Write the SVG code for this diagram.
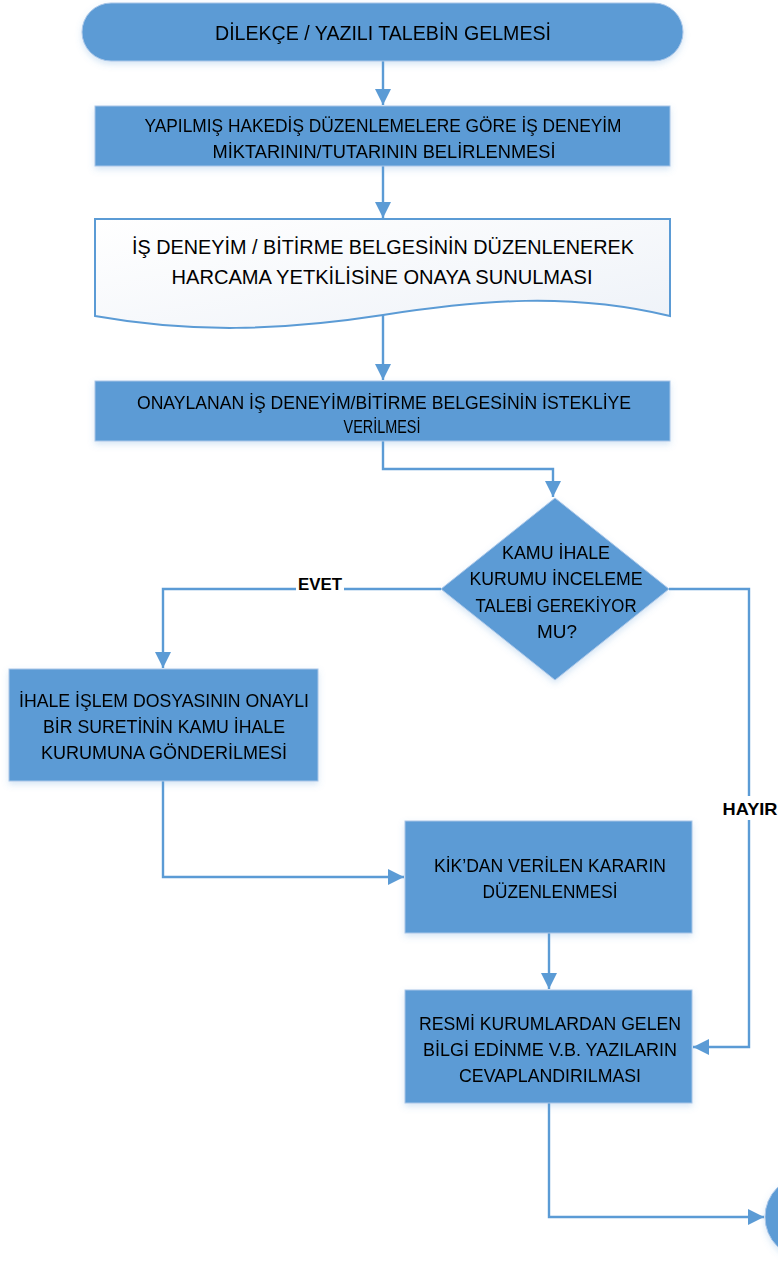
<svg xmlns="http://www.w3.org/2000/svg" width="778" height="1275" viewBox="0 0 778 1275">
<style>
.box{fill:#5B9BD5;stroke:#A9C6E8;stroke-width:1}
.t{font-family:"Liberation Sans",Arial,sans-serif;font-size:18px;fill:#000;text-anchor:middle}
.lbl{font-family:"Liberation Sans",Arial,sans-serif;font-size:17px;font-weight:bold;fill:#000;text-anchor:middle}
.c{fill:none;stroke:#5B9BD5;stroke-width:2.4}
</style>
<defs>
<marker id="ah" viewBox="0 0 16 16" refX="16" refY="8" markerWidth="16" markerHeight="16" markerUnits="userSpaceOnUse" orient="auto">
<path d="M0,0 L16,8 L0,16 Z" fill="#5B9BD5"/>
</marker>
<linearGradient id="doc" x1="0" y1="0" x2="1" y2="1">
<stop offset="0" stop-color="#FFFFFF"/>
<stop offset="1" stop-color="#EEF2F8"/>
</linearGradient>
<filter id="sh" x="-5%" y="-10%" width="110%" height="130%">
<feDropShadow dx="0" dy="3" stdDeviation="3" flood-color="#5B9BD5" flood-opacity="0.25"/>
</filter>
</defs>

<g id="connectors">
<path class="c" d="M383,61 V105" marker-end="url(#ah)"/>
<path class="c" d="M383,166 V218" marker-end="url(#ah)"/>
<path class="c" d="M383,315 V380" marker-end="url(#ah)"/>
<path class="c" d="M383,441 V469 H553 V497" marker-end="url(#ah)"/>
<path class="c" d="M441,589 H163 V668" marker-end="url(#ah)"/>
<path class="c" d="M163,781 V877 H404" marker-end="url(#ah)"/>
<path class="c" d="M549,933 V989" marker-end="url(#ah)"/>
<path class="c" d="M669,589 H749 V1047 H693" marker-end="url(#ah)"/>
<path class="c" d="M549,1103 V1217 H764" marker-end="url(#ah)"/>
<rect x="296" y="573" width="48" height="20" fill="#fff"/>
<text class="lbl" x="320" y="590" textLength="44" lengthAdjust="spacingAndGlyphs">EVET</text>
<rect x="720" y="796" width="58" height="24" fill="#fff"/>
<text class="lbl" x="750" y="815" textLength="55" lengthAdjust="spacingAndGlyphs">HAYIR</text>
</g>

<g id="n1" filter="url(#sh)">
<rect class="box" x="82" y="3" width="601" height="58" rx="29" ry="29"/>
<text class="t" x="383" y="40" textLength="336" lengthAdjust="spacingAndGlyphs" style="font-size:20px">DİLEKÇE / YAZILI TALEBİN GELMESİ</text>
</g>

<g id="n2" filter="url(#sh)">
<rect class="box" x="95" y="106" width="575" height="60"/>
<text class="t" x="383" y="132" textLength="477" lengthAdjust="spacingAndGlyphs">YAPILMIŞ HAKEDİŞ DÜZENLEMELERE GÖRE İŞ DENEYİM</text>
<text class="t" x="384" y="158" textLength="343" lengthAdjust="spacingAndGlyphs">MİKTARININ/TUTARININ BELİRLENMESİ</text>
</g>

<g id="n3">
<path d="M95,219 H670 V316 C570,292 480,300 383,315 C280,331 190,333 95,316 Z" fill="url(#doc)" stroke="#5B9BD5" stroke-width="2"/>
<text class="t" x="383" y="254" textLength="502" lengthAdjust="spacingAndGlyphs" style="font-size:20px">İŞ DENEYİM / BİTİRME BELGESİNİN  DÜZENLENEREK</text>
<text class="t" x="382" y="284" textLength="421" lengthAdjust="spacingAndGlyphs" style="font-size:20px">HARCAMA YETKİLİSİNE ONAYA SUNULMASI</text>
</g>

<g id="n4" filter="url(#sh)">
<rect class="box" x="95" y="381" width="575" height="60"/>
<text class="t" x="384" y="409" textLength="494" lengthAdjust="spacingAndGlyphs">ONAYLANAN İŞ DENEYİM/BİTİRME BELGESİNİN İSTEKLİYE</text>
<text class="t" x="382" y="433" textLength="77" lengthAdjust="spacingAndGlyphs">VERİLMESİ</text>
</g>

<g id="n5" filter="url(#sh)">
<path class="box" d="M555,498 L669,589 L555,680 L441,589 Z"/>
<text class="t" x="556" y="559" textLength="108" lengthAdjust="spacingAndGlyphs">KAMU İHALE</text>
<text class="t" x="556" y="585" textLength="173" lengthAdjust="spacingAndGlyphs">KURUMU İNCELEME</text>
<text class="t" x="556" y="612" textLength="161" lengthAdjust="spacingAndGlyphs">TALEBİ GEREKİYOR</text>
<text class="t" x="557" y="638" textLength="40" lengthAdjust="spacingAndGlyphs">MU?</text>
</g>

<g id="n6" filter="url(#sh)">
<rect class="box" x="9" y="669" width="309" height="112"/>
<text class="t" x="164" y="707" textLength="290" lengthAdjust="spacingAndGlyphs">İHALE İŞLEM DOSYASININ ONAYLI</text>
<text class="t" x="164" y="733" textLength="242" lengthAdjust="spacingAndGlyphs">BİR SURETİNİN KAMU İHALE</text>
<text class="t" x="164" y="759" textLength="246" lengthAdjust="spacingAndGlyphs">KURUMUNA GÖNDERİLMESİ</text>
</g>

<g id="n7" filter="url(#sh)">
<rect class="box" x="405" y="821" width="287" height="112"/>
<text class="t" x="550" y="872" textLength="232" lengthAdjust="spacingAndGlyphs">KİK’DAN VERİLEN KARARIN</text>
<text class="t" x="550" y="898" textLength="135" lengthAdjust="spacingAndGlyphs">DÜZENLENMESİ</text>
</g>

<g id="n8" filter="url(#sh)">
<rect class="box" x="405" y="990" width="287" height="113"/>
<text class="t" x="550" y="1030" textLength="262" lengthAdjust="spacingAndGlyphs">RESMİ KURUMLARDAN GELEN</text>
<text class="t" x="550" y="1056" textLength="254" lengthAdjust="spacingAndGlyphs">BİLGİ EDİNME V.B. YAZILARIN</text>
<text class="t" x="550" y="1082" textLength="182" lengthAdjust="spacingAndGlyphs">CEVAPLANDIRILMASI</text>
</g>

<g id="n9" filter="url(#sh)">
<circle cx="806" cy="1217" r="41" fill="#5B9BD5" stroke="#A9C6E8" stroke-width="1"/>
</g>
</svg>
